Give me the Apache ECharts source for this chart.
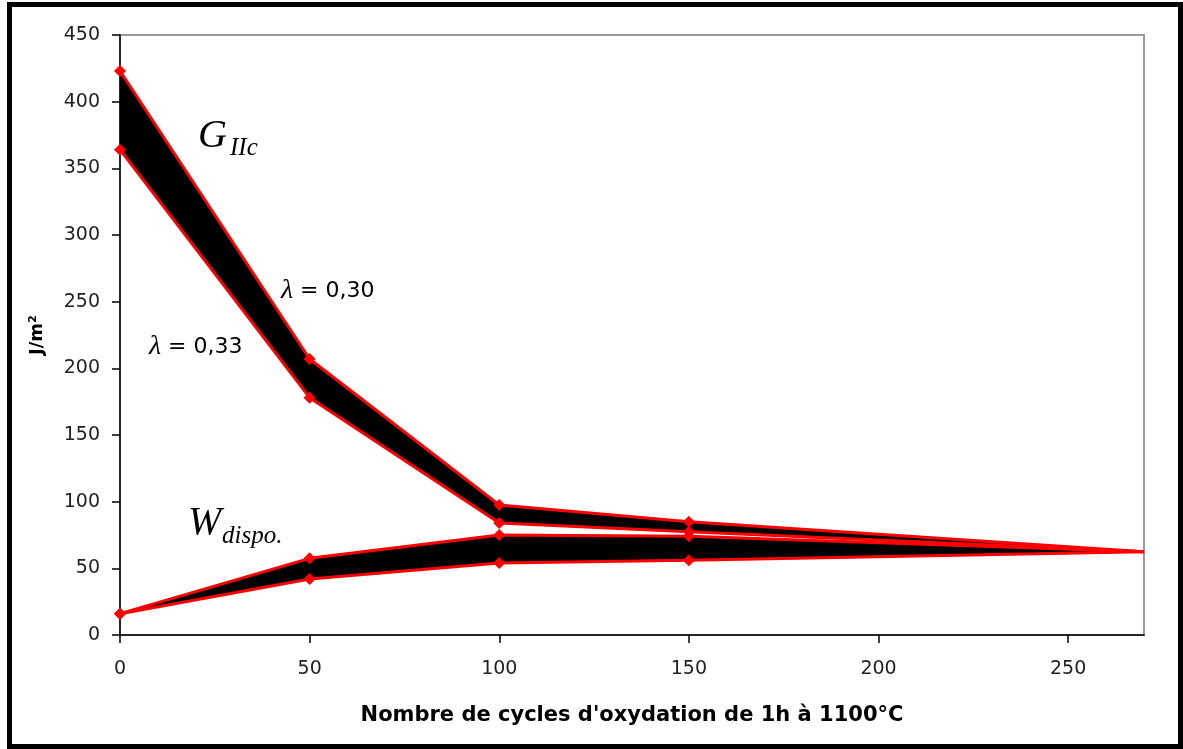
<!DOCTYPE html>
<html>
<head>
<meta charset="utf-8">
<script src="https://cdn.jsdelivr.net/npm/echarts@6/dist/echarts.min.js"></script>
<style>html,body{margin:0;padding:0;background:#fff;}#c{width:1183px;height:749px;}</style>
</head>
<body>
<div id="c"></div>
<script>
// ---- data ----
const cycles = [0, 50, 100, 150, 270];
const gIIcLambda030 = [423, 207, 97.5, 85, 62.5];
const gIIcLambda033 = [364, 178, 84, 77.5, 62.5];
const wDispoUpper = [16, 57.5, 75, 74, 62.5];
const wDispoLower = [16, 42, 54, 56, 62.5];
const xAxisTitle = "Nombre de cycles d'oxydation de 1h à 1100°C";
const yAxisTitle = "J/m²";

function pairs(ys) { return cycles.map((x, i) => [x, ys[i]]); }

const chart = echarts.init(document.getElementById('c'));
const FONT = 'DejaVu Sans';

function bandSeries(up, lo) {
  return {
    type: 'custom', data: [[0, 0]], silent: true, z: 1, clip: true,
    renderItem: function (params, api) {
      const pts = [];
      cycles.forEach((x, i) => pts.push(api.coord([x, up[i]])));
      for (let i = cycles.length - 1; i >= 0; i--) pts.push(api.coord([cycles[i], lo[i]]));
      return { type: 'polygon', shape: { points: pts }, style: { fill: '#000' } };
    }
  };
}
function redLine(ys) {
  return { type: 'line', data: pairs(ys),
    symbol: (v) => v[0] === 270 ? 'none' : 'diamond', symbolSize: 12,
    itemStyle: { color: '#ff0000' }, lineStyle: { color: '#ff0000', width: 3 },
    z: 5, animation: false };
}

const serif = { fontFamily: 'Liberation Serif', fontStyle: 'italic', fill: '#000' };

chart.setOption({
  animation: false,
  grid: { left: 120, right: 39, top: 35, bottom: 114, show: true, borderColor: '#999', borderWidth: 2, backgroundColor: '#fff' },
  xAxis: {
    type: 'value', min: 0, max: 270, interval: 50,
    name: xAxisTitle, nameLocation: 'middle', nameGap: 70,
    nameTextStyle: { fontFamily: FONT, fontWeight: 'bold', fontSize: 21, color: '#000' },
    axisLine: { show: true, onZero: false, lineStyle: { color: '#000', width: 1.5 } },
    axisTick: { show: true, inside: false, length: 8, lineStyle: { color: '#000', width: 1.5 } },
    axisLabel: { margin: 25, fontFamily: FONT, fontSize: 19, color: '#222', showMaxLabel: false },
    splitLine: { show: false }
  },
  yAxis: {
    type: 'value', min: 0, max: 450, interval: 50,
    name: yAxisTitle, nameLocation: 'middle', nameGap: 74, nameRotate: 90,
    nameTextStyle: { fontFamily: FONT, fontWeight: 'bold', fontSize: 18, color: '#000' },
    axisLine: { show: true, lineStyle: { color: '#000', width: 1.5 } },
    axisTick: { show: true, inside: false, length: 8, lineStyle: { color: '#000', width: 1.5 } },
    axisLabel: { margin: 20, fontFamily: FONT, fontSize: 19, color: '#222' },
    splitLine: { show: false }
  },
  series: [
    bandSeries(gIIcLambda030, gIIcLambda033),
    bandSeries(wDispoUpper, wDispoLower),
    redLine(gIIcLambda030),
    redLine(gIIcLambda033),
    redLine(wDispoUpper),
    redLine(wDispoLower)
  ],
  graphic: [
    { type: 'rect', shape: { x: 9.5, y: 4.5, width: 1171, height: 742 },
      style: { fill: null, stroke: '#000', lineWidth: 5 }, z: 100, silent: true },
    { type: 'text', left: 198, top: 116, z: 50, style: Object.assign({ text: 'G', fontSize: 40 }, serif) },
    { type: 'text', left: 230, top: 136, z: 50, style: Object.assign({ text: 'IIc', fontSize: 25 }, serif) },
    { type: 'text', left: 188, top: 503, z: 50, style: Object.assign({ text: 'W', fontSize: 40 }, serif) },
    { type: 'text', left: 222, top: 524, z: 50, style: Object.assign({ text: 'dispo.', fontSize: 25 }, serif) },
    { type: 'text', left: 281, top: 277, z: 50, style: {
        text: '{l|λ}{t| = 0,30}', rich: {
          l: { fontFamily: 'Liberation Serif', fontStyle: 'italic', fontSize: 28, fill: '#000' },
          t: { fontFamily: FONT, fontSize: 22, fill: '#000' }
        } } },
    { type: 'text', left: 149, top: 333, z: 50, style: {
        text: '{l|λ}{t| = 0,33}', rich: {
          l: { fontFamily: 'Liberation Serif', fontStyle: 'italic', fontSize: 28, fill: '#000' },
          t: { fontFamily: FONT, fontSize: 22, fill: '#000' }
        } } }
  ]
});
</script>
</body>
</html>
